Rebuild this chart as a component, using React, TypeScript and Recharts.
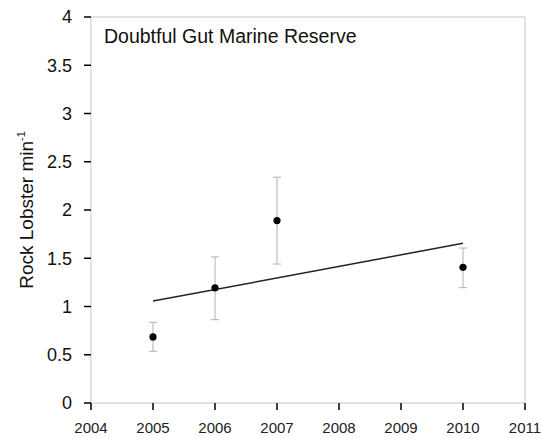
import React from 'react'
import {
  ComposedChart,
  Scatter,
  ErrorBar,
  XAxis,
  YAxis,
  ReferenceLine,
} from 'recharts'

// Survey years and mean rock lobster counts per minute (with lower/upper error)
const years = [2005, 2006, 2007, 2010]
const means = [0.685, 1.194, 1.89, 1.406]
const errLow = [0.15, 0.33, 0.45, 0.21]
const errHigh = [0.15, 0.32, 0.45, 0.2]

// Fitted linear trend, end points
const trendYears = [2005, 2010]
const trendValues = [1.056, 1.655]

const xTicks = [2004, 2005, 2006, 2007, 2008, 2009, 2010, 2011]
const yTicks = [0, 0.5, 1, 1.5, 2, 2.5, 3, 3.5, 4]

const points = years.map((year, i) => ({
  year,
  mean: means[i],
  err: [errLow[i], errHigh[i]],
}))

// same keys as the points so the shared axes can read them
const trend = trendYears.map((year, i) => ({ year, mean: trendValues[i] }))

const FONT = '"Liberation Sans", Arial, Helvetica, sans-serif'
const AXIS_GREY = '#c8c8c8'

const YLabel = () => (
  <text
    transform="translate(33, 210) rotate(-90)"
    textAnchor="middle"
    fontFamily={FONT}
    fontSize={19}
    fill="#111"
  >
    Rock Lobster min
    <tspan fontSize={11} dy={-8}>-1</tspan>
  </text>
)

export default function App() {
  return (
    <div style={{ position: 'absolute', left: 0, top: 0, width: 542, height: 439, background: '#fff' }}>
      <ComposedChart
        width={542}
        height={439}
        margin={{ top: 17, right: 17, bottom: 6, left: 31 }}
      >
        <XAxis
          type="number"
          dataKey="year"
          domain={[2004, 2011]}
          ticks={xTicks}
          allowDataOverflow
          height={30}
          stroke={AXIS_GREY}
          tickLine={{ stroke: '#000', strokeWidth: 1.5 }}
          tickSize={7}
          tickMargin={12}
          tick={{ fill: '#222', fontSize: 15, fontFamily: FONT }}
        />
        <YAxis
          type="number"
          dataKey="mean"
          domain={[0, 4]}
          ticks={yTicks}
          allowDataOverflow
          width={60}
          stroke={AXIS_GREY}
          tickLine={{ stroke: '#000', strokeWidth: 1.5 }}
          tickSize={7}
          tickMargin={12}
          tick={{ fill: '#111', fontSize: 18, fontFamily: FONT }}
          label={<YLabel />}
        />
        <ReferenceLine y={4} stroke={AXIS_GREY} />
        <ReferenceLine x={2011} stroke={AXIS_GREY} />
        <Scatter
          data={trend}
          line={{ stroke: '#222', strokeWidth: 1.5 }}
          shape={() => null}
          isAnimationActive={false}
        />
        <Scatter
          data={points}
          fill="#000"
          shape={(p: any) => <circle cx={p.cx} cy={p.cy} r={3.6} fill="#000" />}
          isAnimationActive={false}
        >
          <ErrorBar
            dataKey="err"
            direction="y"
            width={4}
            stroke="#bdbdbd"
            strokeWidth={1.2}
            isAnimationActive={false}
          />
        </Scatter>
      </ComposedChart>
      <div
        style={{
          position: 'absolute',
          left: 104,
          top: 26,
          fontFamily: FONT,
          fontSize: 19.5,
          color: '#111',
          lineHeight: '20px',
        }}
      >
        Doubtful Gut Marine Reserve
      </div>
    </div>
  )
}
